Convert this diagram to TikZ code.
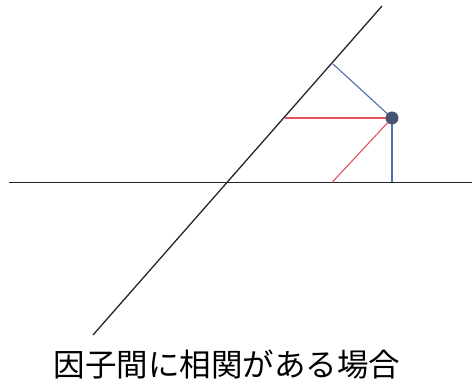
\documentclass[tikz,border=0pt]{standalone}
\usepackage{fontspec}
\newfontfamily\cjk{Noto Sans CJK JP}
\begin{document}
\begin{tikzpicture}[x=1pt,y=-1pt,
  axisline/.style={line width=1.3pt,black!85},
  blueline/.style={line width=1.1pt,color={rgb,255:red,80;green,110;blue,175}},
  redline/.style={line width=1.1pt,color={rgb,255:red,230;green,80;blue,95}},
  dotstyle/.style={circle,minimum size=13pt,inner sep=0pt,fill={rgb,255:red,70;green,85;blue,115}}]
\useasboundingbox (0,0) rectangle (472,385);
\coordinate (hL) at (9,182.5);
\coordinate (hR) at (472,182.5);
\coordinate (dA) at (93,335);
\coordinate (dB) at (382,6);
\coordinate (P) at (392,118);
\coordinate (footB) at (333,64);
\coordinate (footV) at (392,182.5);
\coordinate (redD) at (285,118);
\coordinate (redH) at (332,182.5);
\draw[axisline] (hL) -- (hR);
\draw[axisline] (dA) -- (dB);
\draw[blueline] (P) -- (footB);
\draw[blueline] (P) -- (footV);
\draw[redline] (P) -- (redD);
\draw[redline] (P) -- (redH);
\node[dotstyle] (dot) at (P) {};
\node[font=\cjk\fontsize{31.5}{33}\selectfont] (label) at (227,364) {因子間に相関がある場合};
\end{tikzpicture}
\end{document}
